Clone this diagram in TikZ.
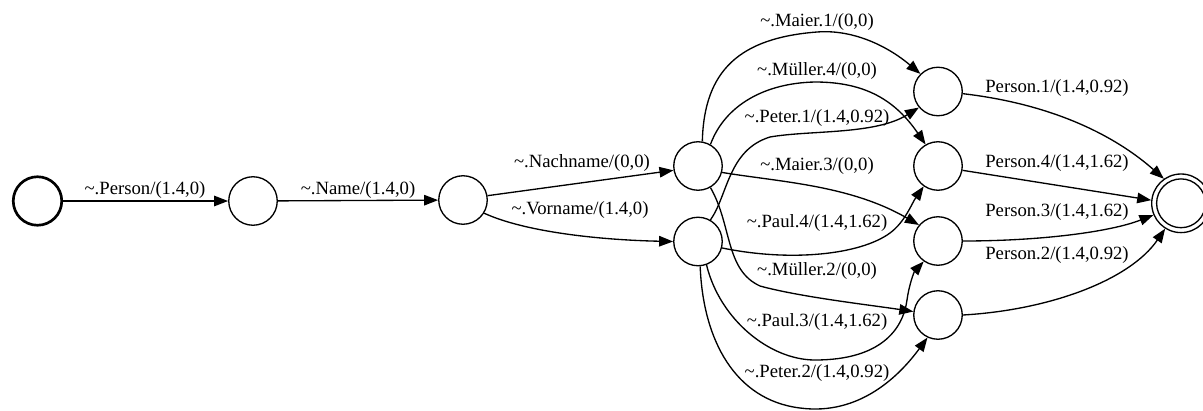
\documentclass[tikz,border=0pt]{standalone}
\usepackage{fontspec}
\setmainfont{Liberation Serif}
\usetikzlibrary{arrows.meta}
\newcommand\mytilde{\textasciitilde}
\begin{document}
\begin{tikzpicture}[x=1pt,y=-1pt,
  st/.style={circle, draw, line width=1.33pt, minimum size=48.5pt, inner sep=0pt},
  lbl/.style={font=\fontsize{18.7}{22}\selectfont, inner sep=0pt},
  conn/.style={draw, line width=1.33pt, -{Triangle[length=14pt,width=10.5pt]}}]
\path[use as bounding box, fill=white] (0,0) rectangle (1203,410);
% states
\node[st, line width=2.67pt] (S) at (37.5,201) {};
\node[st] (n1) at (253,201) {};
\node[st] (n2) at (463,200) {};
\node[st] (N) at (698,166) {};
\node[st] (V) at (698,241.5) {};
\node[st] (A) at (938,91.5) {};
\node[st] (B) at (938,166) {};
\node[st] (C) at (938,241) {};
\node[st] (D) at (938,315) {};
\node[st, minimum size=58.6pt] (F) at (1181,203.3) {};
\draw[line width=1.33pt] (F.center) circle[radius=24.4pt];
% chain
\draw[conn] (S) -- (n1);
\draw[conn] (n1) -- (n2);
\draw[conn] (n2.10) -- (N.190);
\draw[conn] (n2.-32) .. controls (525,232) and (600,240) .. (V.180);
% middle fan
\draw[conn] (N.80) .. controls (704,70) and (740,38) .. (817,32) .. controls (855,29) and (890,48) .. (A.135);
\draw[conn] (N.60) .. controls (725,105) and (765,83) .. (815,82) .. controls (865,82) and (895,100) .. (B.120);
\draw[conn] (V.60) .. controls (728,195) and (728,150) .. (770,137) .. controls (810,130) and (875,135) .. (A.220);
\draw[conn] (N.-15) .. controls (780,182) and (850,185) .. (C.140);
\draw[conn] (V.-15) .. controls (790,262) and (860,255) .. (890,233) .. controls (905,222) and (912,203) .. (B.235);
\draw[conn] (N.-60) .. controls (732,225) and (725,270) .. (760,286) .. controls (800,297) and (870,305) .. (D.172);
\draw[conn] (V.-70) .. controls (720,320) and (770,360) .. (815,360) .. controls (880,360) and (903,330) .. (907,300) .. controls (909,285) and (914,272) .. (C.235);
\draw[conn] (V.-85) .. controls (703,340) and (735,400) .. (800,408) .. controls (860,416) and (900,375) .. (D.245);
% to final
\draw[conn] (A.-5) .. controls (1060,105) and (1120,140) .. (F.125);
\draw[conn] (B.-10) -- (F.174);
\draw[conn] (C.0) .. controls (1040,241) and (1110,232) .. (F.203);
\draw[conn] (D.0) .. controls (1050,310) and (1130,280) .. (F.238);
% labels
\node[lbl] (l1) at (145,190) {\mytilde.Person/(1.4,0)};
\node[lbl] (l2) at (358,190) {\mytilde.Name/(1.4,0)};
\node[lbl] (l3) at (582,163) {\mytilde.Nachname/(0,0)};
\node[lbl] (l4) at (580,210) {\mytilde.Vorname/(1.4,0)};
\node[lbl] (l5) at (817,22) {\mytilde.Maier.1/(0,0)};
\node[lbl] (l6) at (817,71) {\mytilde.Müller.4/(0,0)};
\node[lbl] (l7) at (817,118) {\mytilde.Peter.1/(1.4,0.92)};
\node[lbl] (l8) at (817,166) {\mytilde.Maier.3/(0,0)};
\node[lbl] (l9) at (817,223) {\mytilde.Paul.4/(1.4,1.62)};
\node[lbl] (l10) at (817,271) {\mytilde.Müller.2/(0,0)};
\node[lbl] (l11) at (817,322) {\mytilde.Paul.3/(1.4,1.62)};
\node[lbl] (l12) at (817,373) {\mytilde.Peter.2/(1.4,0.92)};
\node[lbl] (l13) at (1057,88) {Person.1/(1.4,0.92)};
\node[lbl] (l14) at (1057,163) {Person.4/(1.4,1.62)};
\node[lbl] (l15) at (1057,212) {Person.3/(1.4,1.62)};
\node[lbl] (l16) at (1057,255) {Person.2/(1.4,0.92)};
\end{tikzpicture}
\end{document}
